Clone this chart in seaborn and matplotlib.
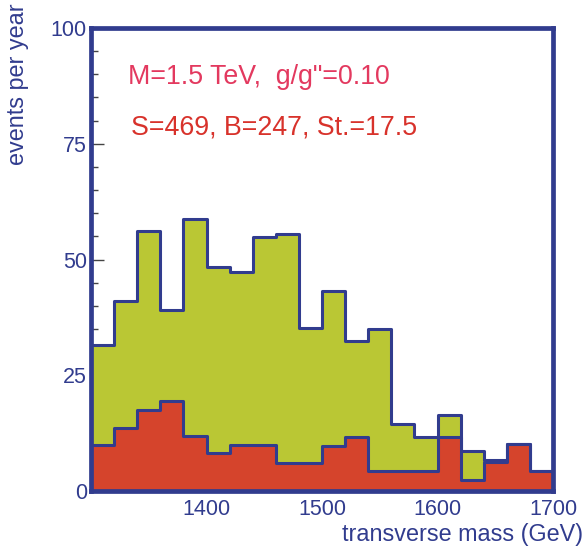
import numpy as np
import pandas as pd
import matplotlib
matplotlib.use("Agg")
import matplotlib.pyplot as plt
import seaborn as sns

# ---- data ----
mass_bins = [1310, 1330, 1350, 1370, 1390, 1410, 1430, 1450, 1470, 1490,
             1510, 1530, 1550, 1570, 1590, 1610, 1630, 1650, 1670, 1690]
total_events = [31.5, 41.0, 56.2, 39.2, 58.7, 48.3, 47.4, 54.9, 55.5, 35.1,
                43.3, 32.5, 35.0, 14.4, 11.7, 16.4, 8.6, 6.8, 10.1, 4.3]
background_events = [9.9, 13.7, 17.6, 19.5, 11.9, 8.1, 9.9, 9.9, 6.1, 6.1,
                     9.8, 11.7, 4.3, 4.3, 4.3, 11.7, 2.4, 6.3, 10.1, 4.3]
x_ticks = [1400, 1500, 1600, 1700]
y_ticks = [0, 25, 50, 75, 100]
title_line1 = 'M=1.5 TeV,  g/g"=0.10'
title_line2 = "S=469, B=247, St.=17.5"

df = pd.DataFrame({"mass": mass_bins, "total": total_events,
                   "background": background_events})

NAVY = "#313C8E"
GREEN = "#BAC734"
RED = "#D5442C"

sns.set_theme(style="white")
plt.rcParams["font.family"] = ["Liberation Sans", "DejaVu Sans"]

fig = plt.figure(figsize=(5.84, 5.48), dpi=100)
ax = fig.add_axes([91 / 584, 1 - 491 / 548, 462 / 584, 463 / 548])

common = dict(x="mass", bins=20, binrange=(1300, 1700), element="step",
              fill=True, alpha=1, edgecolor=NAVY, linewidth=2.2, ax=ax)
sns.histplot(data=df, weights="total", color=GREEN, **common)
sns.histplot(data=df, weights="background", color=RED, **common)

ax.set_xlim(1300, 1700)
ax.set_ylim(0, 100)
ax.set_xticks(x_ticks)
ax.set_yticks(y_ticks)
ax.set_yticks(np.arange(0, 101, 5), minor=True)
ax.tick_params(axis="x", length=0, pad=6, labelsize=15.5, labelcolor=NAVY)
ax.tick_params(axis="y", which="major", direction="in", length=9, width=1,
               color="#444444", pad=3, labelsize=15.5, labelcolor=NAVY, left=True)
ax.tick_params(axis="y", which="minor", direction="in", length=5, width=1,
               color="#444444", left=True)

for sp in ax.spines.values():
    sp.set_visible(True)
    sp.set_color(NAVY)
    sp.set_linewidth(3.4)
    sp.set_zorder(5)

ax.set_xlabel("transverse mass (GeV)", fontsize=16.8, color=NAVY)
ax.xaxis.set_label_coords((583 - 91) / 462, (491 - 535) / 463)
ax.xaxis.label.set_ha("right")
ax.xaxis.label.set_va("center")

ax.set_ylabel("events per year", fontsize=16.8, color=NAVY)
ax.yaxis.set_label_coords((18 - 91) / 462, (491 - 3) / 463)
ax.yaxis.label.set_ha("right")
ax.yaxis.label.set_va("center")

ax.text((128 - 91) / 462, (491 - 77) / 463, title_line1, transform=ax.transAxes,
        fontsize=19.3, color="#E3395F", ha="left", va="center")
ax.text((131 - 91) / 462, (491 - 128) / 463, title_line2, transform=ax.transAxes,
        fontsize=19.3, color="#D8322B", ha="left", va="center")

fig.savefig("out.png", dpi=100)
